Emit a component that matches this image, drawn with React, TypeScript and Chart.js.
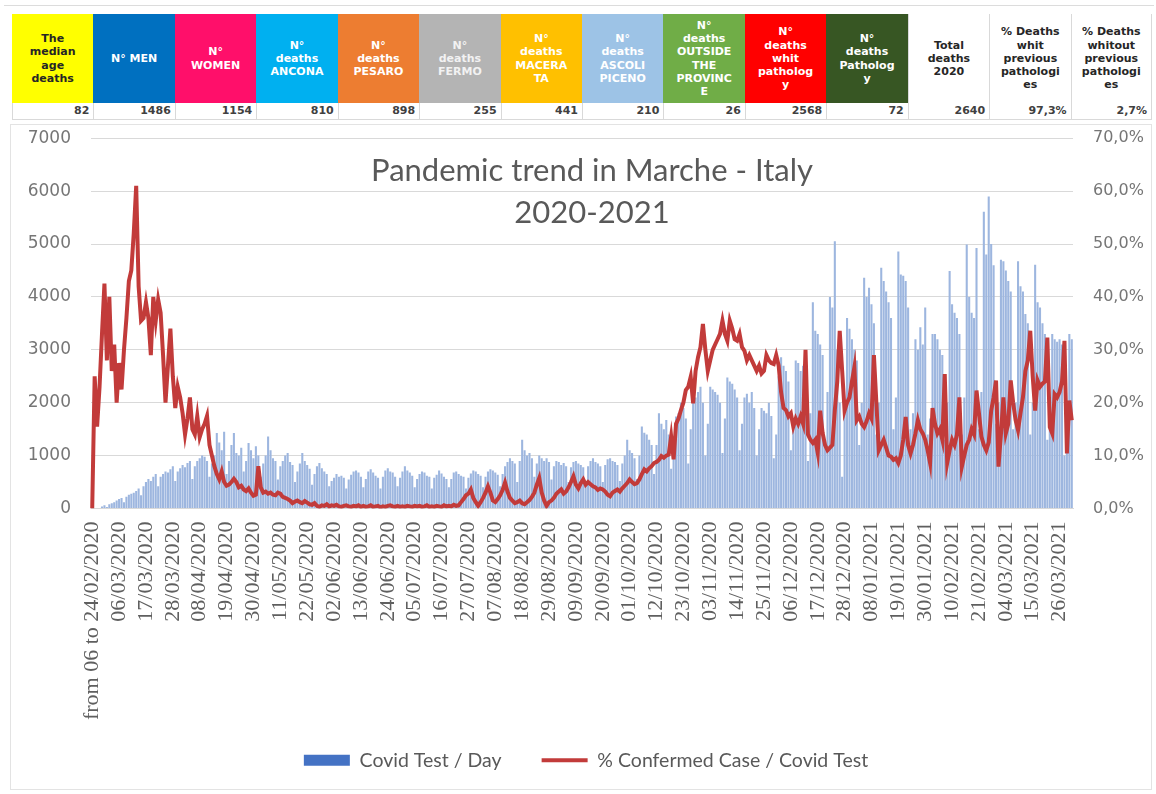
import React, { useEffect, useRef } from 'react';
import { Chart, registerables } from 'chart.js';

Chart.register(...registerables);

// ---------- table data ----------
const HEADER_LABELS = [
  'The\nmedian\nage\ndeaths',
  'N° MEN',
  'N°\nWOMEN',
  'N°\ndeaths\nANCONA',
  'N°\ndeaths\nPESARO',
  'N°\ndeaths\nFERMO',
  'N°\ndeaths\nMACERA\nTA',
  'N°\ndeaths\nASCOLI\nPICENO',
  'N°\ndeaths\nOUTSIDE\nTHE\nPROVINC\nE',
  'N°\ndeaths\nwhit\npatholog\ny',
  'N°\ndeaths\nPatholog\ny',
  'Total\ndeaths\n2020',
  '% Deaths\nwhit\nprevious\npathologi\nes',
  '% Deaths\nwhitout\nprevious\npathologi\nes',
];
const HEADER_VALUES = ['82', '1486', '1154', '810', '898', '255', '441', '210', '26', '2568', '72', '2640', '97,3%', '2,7%'];

// styles for the table (kept apart from the data)
const HEADER_FILLS = ['#FFFF00', '#0070C0', '#FF0F6A', '#00B0F0', '#ED7D31', '#B4B4B4', '#FFC000', '#9DC3E6', '#70AD47', '#FF0000', '#375623', '#FFFFFF', '#FFFFFF', '#FFFFFF'];
const HEADER_INK = ['#262626', '#FFFFFF', '#FFFFFF', '#FFFFFF', '#FFFFFF', '#F2F2F2', '#FFFFFF', '#FFFFFF', '#FFFFFF', '#FFFFFF', '#FFFFFF', '#262626', '#262626', '#262626'];

// ---------- chart data ----------
const TITLE_LINES = ['Pandemic trend in Marche - Italy', '2020-2021'];
const SERIES_NAMES = ['Covid Test / Day', '% Confermed Case / Covid Test'];

const TICK_LABELS = [
  'from 06 to 24/02/2020', '06/03/2020', '17/03/2020', '28/03/2020', '08/04/2020', '19/04/2020',
  '30/04/2020', '11/05/2020', '22/05/2020', '02/06/2020', '13/06/2020', '24/06/2020',
  '05/07/2020', '16/07/2020', '27/07/2020', '07/08/2020', '18/08/2020', '29/08/2020',
  '09/09/2020', '20/09/2020', '01/10/2020', '12/10/2020', '23/10/2020', '03/11/2020',
  '14/11/2020', '25/11/2020', '06/12/2020', '17/12/2020', '28/12/2020', '08/01/2021',
  '19/01/2021', '30/01/2021', '10/02/2021', '21/02/2021', '04/03/2021', '15/03/2021',
  '26/03/2021',
];
const TICK_EVERY = 11;

// Covid tests per day (one row per week, Mon..Sun, from 24/02/2020)
const TESTS_PER_DAY = [
  0, 0, 0, 0, 40, 60, 30,
  80, 100, 120, 150, 180, 200, 120,
  220, 260, 280, 300, 330, 380, 250,
  420, 500, 560, 520, 600, 650, 420,
  600, 650, 700, 680, 740, 800, 520,
  700, 760, 820, 780, 860, 900, 560,
  800, 900, 950, 1000, 980, 900, 600,
  850, 1000, 1425, 1250, 1100, 1450, 650,
  900, 1200, 1425, 1050, 1000, 1150, 700,
  900, 1240, 1100, 950, 1175, 1000, 600,
  850, 1000, 1360, 1100, 950, 900, 550,
  800, 900, 1000, 1050, 880, 820, 500,
  700, 850, 1050, 900, 820, 750, 450,
  650, 800, 860, 760, 700, 650, 420,
  520, 580, 650, 600, 620, 580, 380,
  550, 640, 700, 720, 680, 600, 400,
  560, 700, 740, 680, 620, 580, 380,
  600, 720, 760, 700, 680, 600, 420,
  580, 700, 800, 720, 680, 620, 400,
  560, 650, 700, 680, 620, 600, 380,
  580, 640, 720, 660, 600, 560, 400,
  560, 680, 700, 650, 620, 600, 380,
  580, 660, 720, 700, 650, 620, 400,
  600, 700, 740, 720, 680, 640, 420,
  650, 800, 880, 950, 900, 850, 500,
  900, 1300, 1100, 1000, 1050, 950, 600,
  850, 1000, 950, 900, 950, 880, 550,
  800, 900, 880, 820, 860, 800, 500,
  780, 880, 900, 850, 820, 780, 480,
  800, 900, 950, 880, 850, 800, 500,
  820, 930, 950, 900, 880, 820, 520,
  850, 1000, 1300, 1100, 1050, 950, 560,
  1000, 1550, 1430, 1400, 1300, 1200, 650,
  1200, 1800, 1600, 1500, 1675, 1400, 750,
  1300, 1740, 1800, 2000, 1900, 1700, 850,
  1500, 2000, 2100, 2200, 2300, 2000, 1000,
  1600, 2300, 2250, 2200, 2150, 2000, 1050,
  1700, 2475, 2400, 2360, 2250, 2100, 1100,
  1600, 2100, 2170, 2000, 2200, 1900, 1000,
  1500, 1900, 1850, 1800, 2000, 1750, 950,
  1400, 2500, 2860, 2700, 2600, 2400, 1100,
  1500, 2800, 2750, 2600, 2700, 2300, 900,
  1800, 3900, 3360, 3300, 3100, 2900, 1200,
  2200, 4000, 3800, 5050, 3000, 2000, 600,
  1800, 3600, 3400, 3200, 3000, 2800, 1200,
  2000, 4360, 4000, 4175, 3860, 3500, 1400,
  2000, 4550, 4300, 4100, 3900, 3600, 1500,
  2100, 4860, 4425, 4400, 4300, 3800, 1500,
  1800, 3200, 3000, 3425, 3100, 3800, 1400,
  1700, 3300, 3300, 3200, 3000, 2900, 1300,
  2000, 4490, 3860, 3700, 3600, 3300, 1400,
  2100, 4990, 4000, 3700, 3600, 4925, 1500,
  2200, 5610, 4800, 5900, 5000, 4600, 1600,
  2000, 4700, 4675, 4500, 4300, 4100, 1500,
  2000, 4675, 4200, 4100, 3675, 3500, 1400,
  2000, 4610, 3900, 3800, 3500, 3300, 1300,
  1700, 3300, 3200, 3150, 3200, 3100, 1000,
  1500, 3300, 3200,
];

// % confirmed cases / covid tests
const POSITIVE_PCT = [
  0, 25, 15.5, 23, 33, 42.5, 28,
  40, 26, 31, 20, 27.5, 22.5, 30,
  36, 43, 45, 52, 61, 42, 35.5,
  36, 39, 36, 29, 40, 35.5, 39.5,
  37, 29, 20, 27, 34, 25, 19,
  23, 21, 18, 14, 17, 21, 15,
  14, 17.5, 13.5, 15, 16, 17.5, 12,
  10, 8, 6.5, 5.5, 7, 5, 4.3,
  4.5, 5, 5.6, 5, 4, 4.3, 3.6,
  3.3, 3.8, 3, 2.4, 2.6, 8, 4,
  3, 3.2, 2.8, 3, 2.6, 2.5, 3,
  2.8, 2.2, 2, 1.8, 1.5, 1, 1.3,
  1.5, 1.2, 1, 1.4, 1.1, 0.8, 0.7,
  1, 0.5, 0.3, 0.6, 0.5, 0.8, 0.4,
  0.6, 0.5, 0.7, 0.4, 0.3, 0.5, 0.6,
  0.4, 0.3, 0.5, 0.4, 0.6, 0.3, 0.5,
  0.3, 0.4, 0.6, 0.3, 0.4, 0.5, 0.2,
  0.4, 0.3, 0.5, 0.6, 0.4, 0.3, 0.5,
  0.3, 0.4, 0.3, 0.5, 0.4, 0.3, 0.5,
  0.4, 0.5, 0.3, 0.4, 0.6, 0.3, 0.4,
  0.3, 0.5, 0.4, 0.3, 0.6, 0.4, 0.5,
  0.4, 0.7, 0.5, 0.6, 1.2, 1.8, 2.5,
  2.8, 3.6, 2, 1.2, 0.5, 1.2, 2,
  3, 4.2, 3, 1.5, 1.2, 1.8, 2.5,
  3.5, 4.9, 3.2, 2, 1.5, 1, 1.2,
  1.5, 1, 0.8, 1.2, 1.6, 2.2, 3,
  4.5, 5.75, 3, 1.5, 0.5, 1.2, 1.5,
  2, 2.8, 3.2, 3.6, 2.8, 3.2, 4,
  5, 6.1, 4.5, 3.8, 4.8, 5.5, 4.5,
  5, 4.6, 4.2, 4, 3.5, 3.8, 3.6,
  3.2, 2.6, 2.3, 3, 3.3, 3.6, 3.2,
  3.8, 4.3, 4.8, 5.5, 5, 4.6, 4.8,
  5.5, 6.5, 7.4, 7, 7.6, 8, 8.6,
  8.8, 9.2, 9.9, 9.6, 10, 10.2, 13.6,
  9.3, 16, 17, 18.6, 20, 22.4, 23,
  24.9, 19.9, 26, 28.6, 30.5, 34.9, 30,
  26, 28, 30, 31, 32, 33, 35.5,
  33, 31.7, 35.5, 34, 32, 31.7, 33,
  30.5, 29.8, 28, 29, 28, 27, 26,
  27, 25.5, 26, 29, 28, 27.5, 27.3,
  29, 27, 22, 19, 18.6, 17.4, 18,
  15.5, 17, 16, 17.4, 16, 30, 14,
  13, 12.4, 13, 10.5, 18.5, 14.3, 12,
  11, 11.5, 12, 18.6, 24, 33.6, 26,
  18.5, 20, 21, 24, 26.7, 16.7, 17.4,
  16, 15.4, 16.5, 18, 17, 29, 20,
  11, 12, 13, 11.5, 10, 9.8, 9.2,
  9.5, 8.6, 10, 13, 17.3, 12, 10.4,
  12, 14.2, 16.7, 15, 14.2, 13, 11,
  8.6, 19, 16, 14.2, 15, 13, 25.4,
  8.6, 11, 13, 12, 14, 21, 7.9,
  10, 12, 13, 15, 14, 22.3, 18,
  13.6, 12, 11, 12.5, 18.5, 21, 24.2,
  7.9, 14, 21, 14.2, 16, 24.2, 20,
  16.7, 14.8, 18, 21, 26, 28, 33.6,
  25, 18.5, 24.2, 23, 23.6, 24, 32.3,
  15.4, 14.2, 21.6, 21, 22, 24, 31.7,
  10.4, 20.4, 16.7,
];

// daily categories (calendar dates from 24/02/2020)
const START_DATE = [2020, 1, 24];
const CATEGORIES: string[] = TESTS_PER_DAY.map((_, i) => {
  const d = new Date(Date.UTC(START_DATE[0], START_DATE[1], START_DATE[2] + i));
  const dd = String(d.getUTCDate()).padStart(2, '0');
  const mm = String(d.getUTCMonth() + 1).padStart(2, '0');
  return `${dd}/${mm}/${d.getUTCFullYear()}`;
});

const insideTitle = {
  id: 'insideTitle',
  beforeDatasetsDraw(chart: any) {
    const { ctx, chartArea } = chart;
    ctx.save();
    ctx.font = '31px Lato';
    ctx.fillStyle = '#595959';
    ctx.textAlign = 'center';
    ctx.textBaseline = 'middle';
    const cx = (chartArea.left + chartArea.right) / 2 + 10;
    ctx.fillText(TITLE_LINES[0], cx, chartArea.top + 33);
    ctx.fillText(TITLE_LINES[1], cx, chartArea.top + 75);
    ctx.restore();
  },
};

// moves the legend box up into the free space below the rotated tick labels
const legendNudge = {
  id: 'legendNudge',
  afterLayout(chart: any) {
    const lg = chart.legend;
    if (!lg) return;
    lg.top -= 18;
    lg.bottom -= 18;
    lg.left += 8;
    lg.right += 8;
  },
};

const COL_LEFT = 12;
const COL_W = 81.43;
const CANVAS_TOP = 108;
const CANVAS_H = 690;

export default function App() {
  const canvasRef = useRef<HTMLCanvasElement | null>(null);

  useEffect(() => {
    const canvas = canvasRef.current;
    if (!canvas) return;
    const chart = new Chart(canvas, {
      type: 'bar',
      data: {
        labels: CATEGORIES,
        datasets: [
          {
            type: 'bar',
            label: SERIES_NAMES[0],
            data: TESTS_PER_DAY,
            yAxisID: 'y',
            backgroundColor: '#9DB6DF',
            borderWidth: 0,
            barPercentage: 1,
            categoryPercentage: 0.85,
            order: 2,
            pointStyle: 'rect',
          } as any,
          {
            type: 'line',
            label: SERIES_NAMES[1],
            data: POSITIVE_PCT,
            yAxisID: 'y1',
            borderColor: '#C23B3A',
            backgroundColor: '#C23B3A',
            borderWidth: 4,
            pointRadius: 0,
            tension: 0,
            order: 1,
            pointStyle: 'line',
          } as any,
        ],
      },
      options: {
        responsive: false,
        animation: false,
        layout: { padding: { top: 0, bottom: 0, left: 0, right: 0 } },
        plugins: {
          tooltip: { enabled: false },
          title: { display: false },
          legend: {
            display: true,
            position: 'bottom',
            labels: {
              usePointStyle: true,
              pointStyleWidth: 46,
              boxHeight: 11,
              padding: 40,
              color: '#595959',
              font: { family: 'Lato', size: 19.5 },
              sort: (a: any, b: any) => a.datasetIndex - b.datasetIndex,
              generateLabels: (c: any) => {
                const items = (Chart.defaults.plugins.legend.labels as any).generateLabels(c);
                items.forEach((it: any) => {
                  if (it.datasetIndex === 0) {
                    it.fillStyle = '#4472C4';
                    it.strokeStyle = '#4472C4';
                    it.lineWidth = 0;
                  } else {
                    it.strokeStyle = '#C23B3A';
                    it.lineWidth = 4;
                  }
                });
                return items;
              },
            },
          },
        },
        scales: {
          x: {
            type: 'category',
            grid: { display: false, drawTicks: false },
            border: { display: true, color: '#d9d9d9', width: 1 },
            ticks: {
              autoSkip: false,
              maxRotation: 90,
              minRotation: 90,
              padding: 13,
              color: '#5f5f5f',
              font: { family: 'Liberation Serif', size: 22 },
              callback: (_v: any, i: number) => (i % TICK_EVERY === 0 ? TICK_LABELS[i / TICK_EVERY] ?? '' : ''),
            },
            afterFit: (s: any) => {
              s.height = 220;
            },
          },
          y: {
            position: 'left',
            min: 0,
            max: 7000,
            grid: { color: '#d9d9d9', drawTicks: false },
            border: { display: false },
            ticks: {
              stepSize: 1000,
              padding: 20,
              color: '#767676',
              font: { family: 'DejaVu Sans', size: 17 },
              callback: (v: any) => String(v),
            },
            afterFit: (s: any) => {
              s.width = 91;
            },
          },
          y1: {
            position: 'right',
            min: 0,
            max: 70,
            grid: { display: false, drawOnChartArea: false, drawTicks: false },
            border: { display: false },
            ticks: {
              stepSize: 10,
              padding: 20,
              color: '#767676',
              font: { family: 'DejaVu Sans', size: 16 },
              callback: (v: any) => `${Number(v).toFixed(1).replace('.', ',')}%`,
            },
            afterFit: (s: any) => {
              s.width = 83;
            },
          },
        },
      },
      plugins: [insideTitle, legendNudge],
    });
    return () => chart.destroy();
  }, []);

  return (
    <div style={{ position: 'absolute', left: 0, top: 0, width: 1156, height: 794, background: '#ffffff', overflow: 'hidden' }}>
      <div style={{ position: 'absolute', left: 4, top: 5, width: 1150, height: 1, background: '#dcdcdc' }} />
      {HEADER_LABELS.map((lab, k) => (
        <div
          key={'h' + k}
          style={{
            position: 'absolute',
            left: COL_LEFT + k * COL_W,
            top: 14,
            width: COL_W,
            height: 89,
            background: HEADER_FILLS[k],
            color: HEADER_INK[k],
            display: 'flex',
            alignItems: 'center',
            justifyContent: 'center',
            textAlign: 'center',
            whiteSpace: 'pre-line',
            fontFamily: 'DejaVu Sans',
            fontWeight: 'bold',
            fontSize: 11,
            lineHeight: '13.3px',
            boxSizing: 'border-box',
            borderLeft: k >= 11 ? '1px solid #d9d9d9' : 'none',
            borderRight: k === 13 ? '1px solid #d9d9d9' : 'none',
          }}
        >
          {lab}
        </div>
      ))}
      {HEADER_VALUES.map((val, k) => (
        <div
          key={'v' + k}
          style={{
            position: 'absolute',
            left: COL_LEFT + k * COL_W,
            top: 103,
            width: COL_W,
            height: 17,
            boxSizing: 'border-box',
            borderLeft: '1px solid #d9d9d9',
            borderRight: k === 13 ? '1px solid #d9d9d9' : 'none',
            borderBottom: '1px solid #d9d9d9',
            color: '#404040',
            fontFamily: 'DejaVu Sans',
            fontWeight: 'bold',
            fontSize: 11,
            lineHeight: '16px',
            textAlign: 'right',
            paddingRight: 4,
          }}
        >
          {val}
        </div>
      ))}
      <div style={{ position: 'absolute', left: 10, top: 124, width: 1142, height: 666, border: '1px solid #e3e3e3', boxSizing: 'border-box' }} />
      <div style={{ position: 'absolute', left: 0, top: CANVAS_TOP, width: 1156, height: CANVAS_H }}>
        <canvas ref={canvasRef} width={1156} height={CANVAS_H} style={{ width: 1156, height: CANVAS_H, display: 'block' }} />
      </div>
    </div>
  );
}
